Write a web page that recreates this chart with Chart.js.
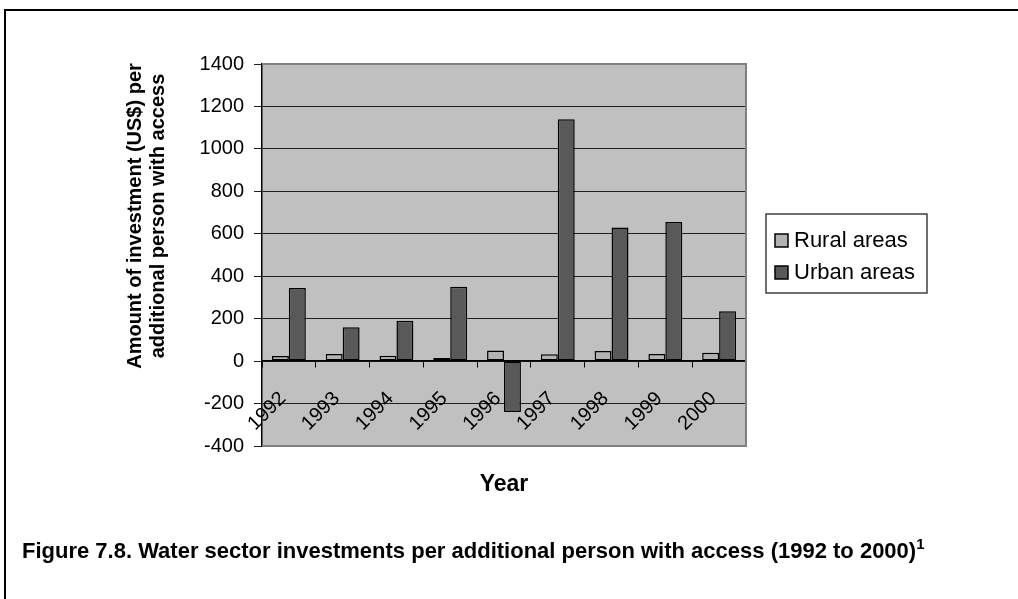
<!DOCTYPE html>
<html>
<head>
<meta charset="UTF-8">
<title>Water sector investments</title>
<script src="https://cdn.jsdelivr.net/npm/chart.js@4.4.0/dist/chart.umd.min.js"></script>
<style>
    body { margin: 0; background: #fff; }
    #frame { position: absolute; left: 4px; top: 9px; width: 1014px; height: 590px;
             border-top: 2px solid #000; border-left: 2px solid #000; }
    #wrap { position: absolute; left: 0; top: 0; width: 1018px; height: 599px; }
    #caption { position: absolute; left: 22px; top: 538px; white-space: nowrap;
               font: bold 22px "Liberation Sans Narrow", "Liberation Sans", sans-serif; }
    #caption sup { font-size: 15px; vertical-align: 9px; line-height: 0; }
</style>
</head>
<body>
<div id="frame"></div>
<div id="wrap"><canvas id="myChart" width="1018" height="599"></canvas></div>
<div id="caption">Figure 7.8. Water sector investments per additional person with access (1992 to 2000)<sup>1</sup></div>

<script>
    var years = ['1992', '1993', '1994', '1995', '1996', '1997', '1998', '1999', '2000'];
    var rural = [24, 33, 25, 15, 50, 32, 48, 33, 39];
    var urban = [345, 160, 190, 350, -240, 1140, 630, 655, 235];
    var seriesNames = ['Rural areas', 'Urban areas'];
    var yTicks = [-400, -200, 0, 200, 400, 600, 800, 1000, 1200, 1400];

    // grey plot box, axis titles and the boxed legend (Excel look)
    var plotDecor = {
        id: 'plotDecor',
        beforeDraw: function (chart) {
            var ctx = chart.ctx, a = chart.chartArea;
            ctx.save();
            ctx.fillStyle = '#c0c0c0';
            ctx.fillRect(a.left, a.top, a.right - a.left, a.bottom - a.top);
            ctx.restore();
        },
        afterDraw: function (chart) {
            var ctx = chart.ctx, a = chart.chartArea;
            ctx.save();
            ctx.strokeStyle = '#808080';
            ctx.lineWidth = 2;
            ctx.beginPath();
            ctx.moveTo(a.left, a.top);
            ctx.lineTo(a.right, a.top);
            ctx.lineTo(a.right, a.bottom);
            ctx.lineTo(a.left, a.bottom);
            ctx.stroke();

            ctx.fillStyle = '#000';
            ctx.textAlign = 'center';
            ctx.textBaseline = 'middle';
            ctx.font = 'bold 23px "Liberation Sans", Arial, sans-serif';
            ctx.fillText('Year', (a.left + a.right) / 2, 485);

            ctx.save();
            ctx.translate(135, 216);
            ctx.rotate(-Math.PI / 2);
            ctx.font = 'bold 20px "Liberation Sans", Arial, sans-serif';
            ctx.fillText('Amount of investment (US$) per', 0, 0);
            ctx.fillText('additional person with access', 0, 23);
            ctx.restore();

            // legend
            ctx.lineWidth = 1.5;
            ctx.strokeStyle = '#404040';
            ctx.fillStyle = '#fff';
            ctx.fillRect(766, 214, 161, 79);
            ctx.strokeRect(766, 214, 161, 79);
            ctx.font = '22px "Liberation Sans", Arial, sans-serif';
            ctx.textAlign = 'left';
            chart.data.datasets.forEach(function (ds, i) {
                var cy = 241 + i * 32;
                ctx.fillStyle = ds.backgroundColor;
                ctx.fillRect(775, cy - 7, 13, 13);
                ctx.strokeStyle = '#000';
                ctx.strokeRect(775, cy - 7, 13, 13);
                ctx.fillStyle = '#000';
                ctx.fillText(ds.label, 794, cy);
            });
            ctx.restore();
        }
    };

    var ctx = document.getElementById('myChart');
    var myChart = new Chart(ctx, {
        type: 'bar',
        data: {
            labels: years,
            datasets: [
                { label: seriesNames[0], data: rural, backgroundColor: '#b2b2b2', borderColor: '#000',
                  borderWidth: 1.5, borderSkipped: false },
                { label: seriesNames[1], data: urban, backgroundColor: '#595959', borderColor: '#000',
                  borderWidth: 1.5, borderSkipped: false }
            ]
        },
        options: {
            responsive: false,
            animation: false,
            layout: { padding: { left: 0, top: 64, right: 272, bottom: 153 } },
            datasets: { bar: { barPercentage: 1, categoryPercentage: 0.63 } },
            plugins: { legend: { display: false }, tooltip: { enabled: false } },
            scales: {
                x: {
                    position: { y: 0 },
                    grid: { drawOnChartArea: false, drawTicks: true, tickLength: 6, color: '#000', offset: true },
                    border: { color: '#000', width: 1.5 },
                    ticks: { color: '#000', font: { family: '"Liberation Sans", Arial, sans-serif', size: 20 },
                             minRotation: 45, maxRotation: 45, autoSkip: false, padding: 20, labelOffset: -6 }
                },
                y: {
                    min: -400,
                    max: 1400,
                    afterFit: function (scale) { scale.width = 262; },
                    afterBuildTicks: function (scale) {
                        scale.ticks = yTicks.map(function (v) { return { value: v }; });
                    },
                    grid: { color: '#202020', lineWidth: 1, tickLength: 8 },
                    border: { color: '#000', width: 1.5 },
                    ticks: { color: '#000', padding: 10,
                             callback: function (v) { return String(v); },
                             font: { family: '"Liberation Sans", Arial, sans-serif', size: 20 } }
                }
            }
        },
        plugins: [plotDecor]
    });
</script>
</body>
</html>
